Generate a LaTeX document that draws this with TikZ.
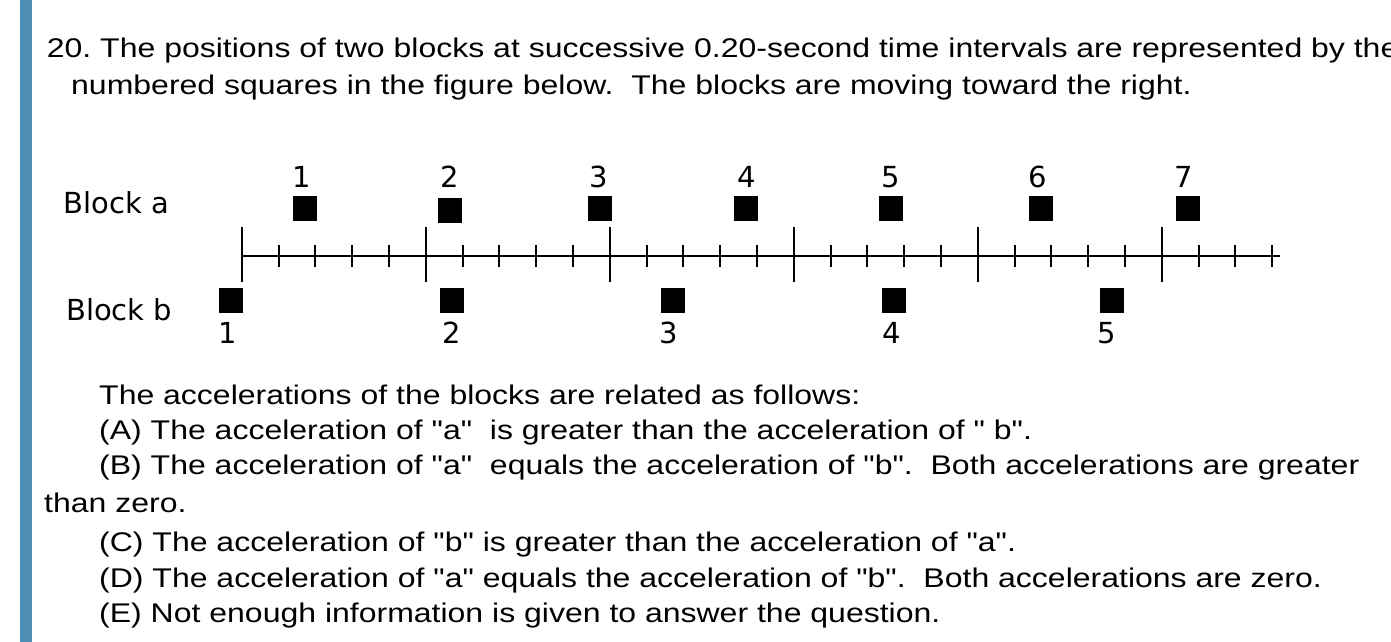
\documentclass[tikz,border=0pt]{standalone}
\usepackage{fontspec}
\setmainfont{Liberation Sans}[FakeStretch=1.185,Ligatures=TeXOff]
\newfontfamily\pixfont{DejaVu Sans}
\definecolor{barblue}{RGB}{79,143,182}
\frenchspacing
\begin{document}
\begin{tikzpicture}[x=1pt,y=-1pt,
  txt/.style={anchor=base west,inner sep=0pt,font=\fontsize{27}{32}\selectfont},
  pix/.style={inner sep=0pt,font=\pixfont\fontsize{29}{34}\selectfont},
  blk/.style={fill=black,inner sep=0pt,minimum width=24pt,minimum height=25pt},
  num/.style={pix,anchor=base},
  axisln/.style={line width=2pt,black}]
\useasboundingbox (0,0) rectangle (1391,642);
\fill[white] (0,0) rectangle (1391,642);
\fill[barblue] (20,0) rectangle (32,642);
% question text
\node[txt] (l1) at (46.7,57) {20. The positions of two blocks at successive 0.20-second time intervals are represented by the};
\node[txt] (l2) at (71,94) {numbered squares in the figure below.\ \ The blocks are moving toward the right.};
% axis
\draw[axisln] (241.7,256) -- (1280,256);
\foreach \k in {0,...,5} \draw[axisln] ({241.7+184*\k},226.5) -- ({241.7+184*\k},281.7);
\foreach \j in {1,...,28} {
  \pgfmathtruncatemacro\m{mod(\j,5)}
  \ifnum\m>0 \draw[axisln] ({241.7+36.8*\j},245) -- ({241.7+36.8*\j},266.7); \fi
}
% labels
\node[pix,anchor=base west] (bla) at (63.3,213.3) {Block a};
\node[pix,anchor=base west] (blb) at (66,320) {Block b};
% block a
\node[blk] (a1) at (305,208.4) {};
\node[blk] (a2) at (450,210.8) {};
\node[blk] (a3) at (599.5,208.4) {};
\node[blk] (a4) at (746,208.4) {};
\node[blk] (a5) at (891,208.4) {};
\node[blk] (a6) at (1040.5,208.4) {};
\node[blk] (a7) at (1188,208.4) {};
\node[num] (na1) at (302,187) {1};
\node[num] (na2) at (449.4,187) {2};
\node[num] (na3) at (599,187) {3};
\node[num] (na4) at (747.2,187) {4};
\node[num] (na5) at (891.2,187) {5};
\node[num] (na6) at (1037.9,187) {6};
\node[num] (na7) at (1184.1,187) {7};
% block b
\node[blk] (b1) at (230.5,300) {};
\node[blk] (b2) at (452.3,300) {};
\node[blk] (b3) at (673.3,300) {};
\node[blk] (b4) at (893.5,300) {};
\node[blk] (b5) at (1112,300) {};
\node[num] (nb1) at (228,343) {1};
\node[num] (nb2) at (451.6,343) {2};
\node[num] (nb3) at (669,343) {3};
\node[num] (nb4) at (892,343) {4};
\node[num] (nb5) at (1107.2,343) {5};
% answers
\node[txt] (q0) at (99,404) {The accelerations of the blocks are related as follows:};
\node[txt] (qa) at (99,439) {(A) The acceleration of "a"\ \ is greater than the acceleration of " b".};
\node[txt] (qb) at (99,474) {(B) The acceleration of "a"\ \ equals the acceleration of "b".\ \ Both accelerations are greater};
\node[txt] (qb2) at (44,512) {than zero.};
\node[txt] (qc) at (99,551) {(C) The acceleration of "b" is greater than the acceleration of "a".};
\node[txt] (qd) at (99,587) {(D) The acceleration of "a" equals the acceleration of "b".\ \ Both accelerations are zero.};
\node[txt] (qe) at (99,622) {(E) Not enough information is given to answer the question.};
\end{tikzpicture}
\end{document}
